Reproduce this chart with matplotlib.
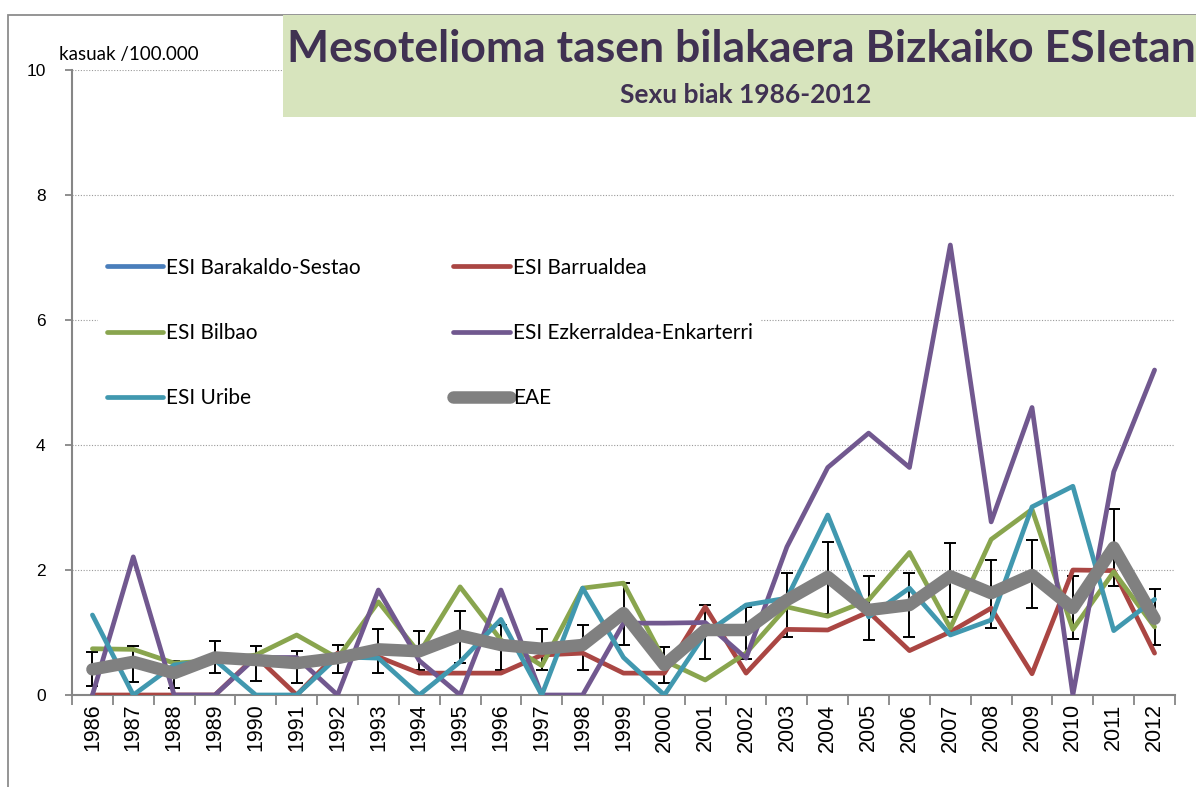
"""
Mesothelioma rates in the Bizkaia ESIs, both sexes 1986-2012.
Line chart with the EAE reference series and its confidence bars.
"""

import numpy as np
import matplotlib
matplotlib.use("Agg")
import matplotlib.pyplot as plt
import matplotlib.patches as patches

W, H = 1196, 787

years = [str(y) for y in range(1986, 2013)]

# rates per 100.000 (Barakaldo-Sestao has no visible line)
barakaldo = [np.nan] * 27
barrualdea = [0, 0, 0, 0, 0.62, 0, 0.67, 0.61, 0.35, 0.35, 0.35, 0.64, 0.67, 0.35,
              0.35, 1.41, 0.35, 1.05, 1.04, 1.33, 0.71, 1.01, 1.39, 0.34, 2.0, 1.99, 0.67]
bilbao = [0.74, 0.73, 0.51, 0.55, 0.64, 0.96, 0.59, 1.49, 0.67, 1.73, 0.88, 0.47, 1.71, 1.79,
          0.55, 0.24, 0.67, 1.41, 1.26, 1.52, 2.28, 1.07, 2.49, 2.97, 1.05, 1.97, 1.09]
ezkerraldea = [0, 2.21, 0, 0, 0.6, 0.6, 0, 1.68, 0.55, 0, 1.68, 0, 0, 1.15,
               1.15, 1.16, 0.59, 2.37, 3.64, 4.19, 3.64, 7.2, 2.77, 4.6, 0, 3.57, 5.2]
uribe = [1.28, 0, 0.48, 0.56, 0, 0, 0.61, 0.59, 0, 0.53, 1.21, 0, 1.71, 0.6,
         0, 0.98, 1.44, 1.55, 2.88, 1.25, 1.71, 0.96, 1.2, 3.01, 3.34, 1.03, 1.53]
eae = [0.41, 0.53, 0.35, 0.6, 0.56, 0.51, 0.59, 0.73, 0.7, 0.95, 0.8, 0.74, 0.8, 1.31,
       0.48, 1.04, 1.04, 1.52, 1.89, 1.36, 1.44, 1.9, 1.63, 1.92, 1.39, 2.36, 1.22]
eae_low = [0.15, 0.21, 0.12, 0.35, 0.22, 0.2, 0.36, 0.36, 0.4, 0.52, 0.4, 0.4, 0.4, 0.8,
           0.19, 0.58, 0.58, 0.93, 1.3, 0.88, 0.93, 1.25, 1.07, 1.4, 0.9, 1.75, 0.8]
eae_high = [0.69, 0.79, 0.55, 0.87, 0.78, 0.71, 0.8, 1.05, 1.03, 1.35, 1.12, 1.05, 1.12, 1.79,
            0.77, 1.44, 1.41, 1.95, 2.45, 1.9, 1.95, 2.44, 2.16, 2.48, 1.91, 2.97, 1.69]

series = [
    ("ESI Barakaldo-Sestao", barakaldo, "#4A7EBB"),
    ("ESI Barrualdea", barrualdea, "#AA4643"),
    ("ESI Bilbao", bilbao, "#89A54E"),
    ("ESI Ezkerraldea-Enkarterri", ezkerraldea, "#71588F"),
    ("ESI Uribe", uribe, "#4198AF"),
]

fig = plt.figure(figsize=(W / 100, H / 100), dpi=100)
ax = fig.add_axes([72 / W, 1 - 695 / H, (1175 - 72) / W, (695 - 70) / H])

x = np.arange(len(years))
eae_arr = np.array(eae)
yerr = [eae_arr - np.array(eae_low), np.array(eae_high) - eae_arr]

ax.errorbar(x, eae, yerr=yerr, fmt="none", ecolor="black", elinewidth=1.4,
            capsize=4.5, capthick=1.4, zorder=2)

handles = []
for label, vals, color in series:
    ln, = ax.plot(x, vals, color=color, lw=3.4, label=label, zorder=3,
                  solid_joinstyle="round", solid_capstyle="round")
    handles.append(ln)
ln, = ax.plot(x, eae, color="#808080", lw=9, label="EAE", zorder=4,
              solid_joinstyle="round", solid_capstyle="round")
handles.append(ln)

# axes styling, excel-like
ax.set_xlim(-0.5, len(years) - 0.5)
ax.set_ylim(0, 10)
ax.set_yticks([0, 2, 4, 6, 8, 10])
ax.set_xticks(np.arange(-0.5, len(years), 1.0))
ax.set_xticklabels([])
ax.set_xticks(x, minor=True)
ax.set_xticklabels(years, minor=True, rotation=90, fontsize=15.5,
                   family="Liberation Sans")
ax.tick_params(axis="x", which="minor", length=0, pad=6)
ax.tick_params(axis="x", which="major", length=7, color="#868686", width=1.3)
ax.tick_params(axis="y", length=5, color="#868686", width=1.3, pad=14,
               labelsize=12.5)
for t in ax.get_yticklabels():
    t.set_family("Liberation Sans")
ax.grid(axis="y", color="#9A9A9A", ls=(0, (1, 1.5)), lw=0.8)
ax.set_axisbelow(True)
for side in ["top", "right"]:
    ax.spines[side].set_visible(False)
for side in ["left", "bottom"]:
    ax.spines[side].set_color("#868686")
    ax.spines[side].set_linewidth(1.5)

# legend filled row by row like excel: reorder for matplotlib's column fill
order = [0, 2, 4, 1, 3, 5]
leg = ax.legend([handles[i] for i in order],
                [handles[i].get_label() for i in order],
                ncol=2, loc="upper left", bbox_to_anchor=(88 / W, 1 - 239 / H),
                bbox_transform=fig.transFigure, frameon=True,
                fancybox=False, framealpha=1, edgecolor="none", facecolor="white",
                handlelength=2.7, handletextpad=0.15, columnspacing=4.45,
                labelspacing=2.17, borderpad=0.4, prop={"family": "Lato", "size": 15})
leg.set_zorder(6)

# outer frame and green title box
fig.add_artist(patches.Rectangle((8 / W, -0.1), 1.2, 1.1 - 15 / H,
                                 transform=fig.transFigure, fill=False,
                                 edgecolor="#8C8C8C", lw=1.3, zorder=1))
fig.add_artist(patches.Rectangle((283 / W, 1 - 117 / H), 1.0, 102 / H,
                                 transform=fig.transFigure, facecolor="#D7E4BD",
                                 edgecolor="none", zorder=5))
fig.text(287 / W, 1 - 62 / H, "Mesotelioma tasen bilakaera Bizkaiko ESIetan",
         fontsize=32, fontweight="bold", color="#403152", family="Lato",
         va="baseline", ha="left", zorder=7)
fig.text(746 / W, 1 - 103 / H, "Sexu biak 1986-2012", fontsize=19,
         fontweight="bold", color="#403152", family="Lato",
         va="baseline", ha="center", zorder=7)
fig.text(59 / W, 1 - 60 / H, "kasuak /100.000", fontsize=13.5, family="Lato",
         va="baseline", ha="left")

fig.savefig("out.png", dpi=100)
